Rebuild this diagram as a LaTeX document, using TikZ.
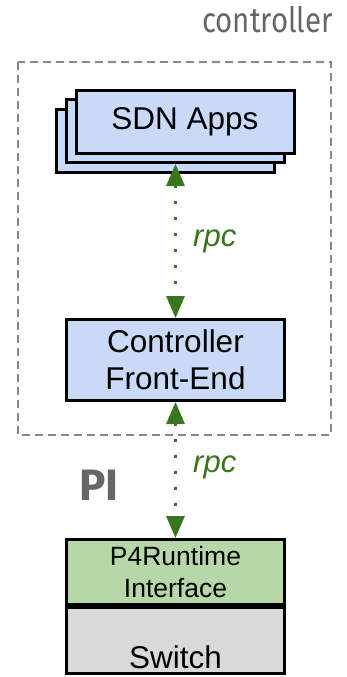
\documentclass[tikz,border=0pt]{standalone}
\usepackage{fontspec}
\setmainfont{Liberation Sans}
\newfontfamily\labelfont{Fira Sans}
\usetikzlibrary{arrows.meta}
\definecolor{rpcgreen}{HTML}{38761D}
\definecolor{bluefill}{HTML}{C9DAF8}
\definecolor{greenfill}{HTML}{B6D7A8}
\definecolor{grayfill}{HTML}{D9D9D9}
\definecolor{labelgray}{HTML}{666666}
\definecolor{dashgray}{HTML}{888888}
\tikzset{
  box/.style={draw=black, line width=3pt, inner sep=0pt, align=center,
    font=\fontsize{31.5}{37}\selectfont},
  appbox/.style={box, fill=bluefill, minimum width=218pt, minimum height=63pt},
  rpcarrow/.style={draw=rpcgreen, line width=3pt, dash pattern=on 3pt off 13pt,
    {Triangle[width=18pt,length=22pt]}-{Triangle[width=18pt,length=22pt]}},
  rpclabel/.style={text=rpcgreen, font=\fontsize{31}{31}\selectfont\itshape, anchor=west},
}
\begin{document}
\begin{tikzpicture}[x=1pt,y=-1pt]
\fill[white] (0,0) rectangle (346,677);
\useasboundingbox (0,0) rectangle (346,677);
% controller region
\draw[dashgray, line width=1.5pt, dash pattern=on 8pt off 5pt] (18,62) rectangle (331,435);
\node[anchor=base east, text=labelgray, inner sep=0pt] (ctl) at (333,33)
  {\scalebox{0.84}[1]{\labelfont\fontsize{35}{35}\selectfont controller}};
% SDN apps stack
\node[appbox] (app3) at (165.5,141) {};
\node[appbox] (app2) at (175.5,131) {};
\node[appbox] (app1) at (185,122) {SDN Apps};
% front end
\node[box, fill=bluefill, minimum width=218pt, minimum height=81pt] (fe) at (175.5,360)
  {Controller\\Front-End};
% switch
\node[box, fill=greenfill, minimum width=218pt, minimum height=65pt,
  font=\fontsize{26.5}{32}\selectfont] (p4) at (175.5,572) {P4Runtime\\Interface};
\node[box, fill=grayfill, minimum width=218pt, minimum height=66pt] (sw) at (175.5,640.5) {};
\node[inner sep=0pt, font=\fontsize{31.5}{31.5}\selectfont] (swl) at (175.5,657) {Switch};
% arrows
\draw[rpcarrow] (app2.south) -- (fe.north);
\draw[rpcarrow] (fe.south) -- (p4.north);
\node[rpclabel, inner sep=0pt] (rpc1) at (193,241) {rpc};
\node[rpclabel, inner sep=0pt] (rpc2) at (193,467) {rpc};
\node[text=labelgray, inner sep=0pt, font=\labelfont\bfseries\fontsize{44}{44}\selectfont] (pi) at (99,485) {PI};
\end{tikzpicture}
\end{document}
